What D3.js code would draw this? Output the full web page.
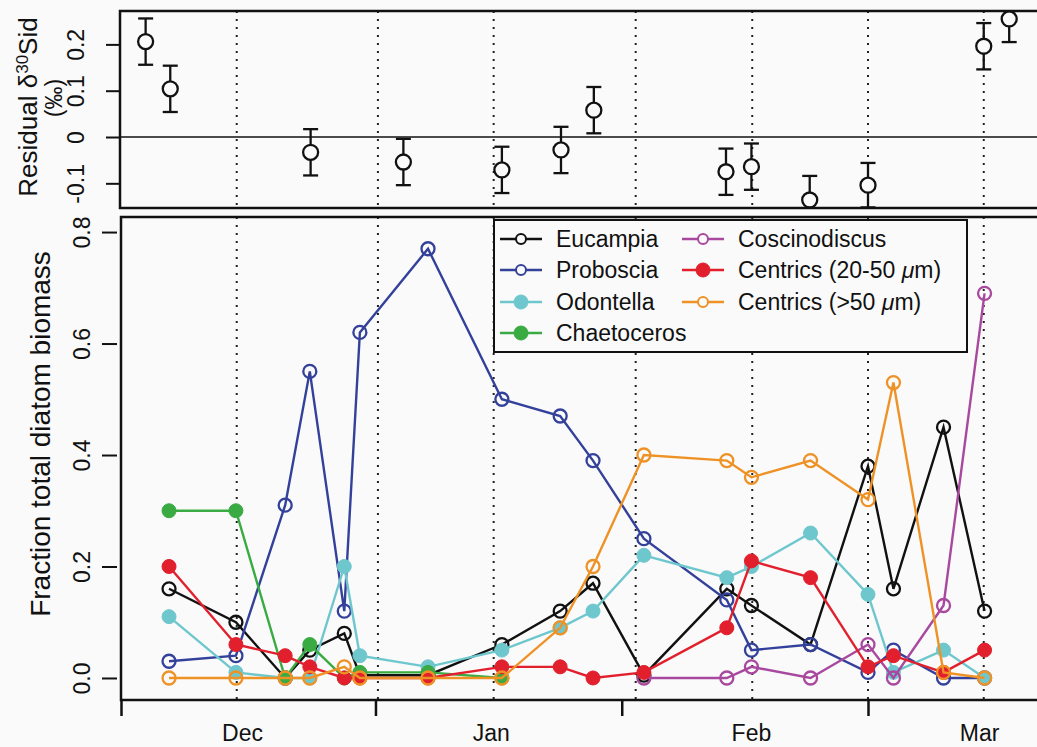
<!DOCTYPE html>
<html>
<head>
<meta charset="utf-8">
<script src="https://cdn.jsdelivr.net/npm/d3@7"></script>
<style>
  body { margin: 0; background: #fafafa; }
  text { font-family: "Liberation Sans", Arial, Helvetica, sans-serif; fill: #111; }
</style>
</head>
<body>
<div id="chart"></div>
<script>
// sampling days (days since 1 Dec) for the biomass panel
var sampleDays = [5.85, 14.0, 20.0, 23.0, 27.2, 29.1, 37.4, 46.4, 53.5, 57.5, 63.7, 73.8, 76.8, 84.0, 91.0, 94.1, 100.2, 105.2];

var eucampia      = [0.16, 0.10, 0.0, 0.05, 0.08, 0.005, 0.005, 0.06, 0.12, 0.17, 0.005, 0.16, 0.13, 0.06, 0.38, 0.16, 0.45, 0.12];
var proboscia     = [0.03, 0.04, 0.31, 0.55, 0.12, 0.62, 0.77, 0.50, 0.47, 0.39, 0.25, 0.14, 0.05, 0.06, 0.01, 0.05, 0.0, 0.0];
var odontella     = [0.11, 0.01, 0.0, 0.0, 0.20, 0.04, 0.02, 0.05, 0.09, 0.12, 0.22, 0.18, 0.20, 0.26, 0.15, 0.01, 0.05, 0.0];
var chaetoceros   = [0.30, 0.30, 0.0, 0.06, 0.0, 0.01, 0.01, 0.0, null, null, null, null, null, null, null, null, null, null];
var coscinodiscus = [null, null, null, null, null, null, null, null, null, null, 0.0, 0.0, 0.02, 0.0, 0.06, 0.0, 0.13, 0.69];
var centrics20    = [0.20, 0.06, 0.04, 0.02, 0.0, 0.0, 0.0, 0.02, 0.02, 0.0, 0.01, 0.09, 0.21, 0.18, 0.02, 0.04, 0.01, 0.05];
var centrics50    = [0.0, 0.0, 0.0, 0.0, 0.02, 0.0, 0.0, 0.0, 0.09, 0.20, 0.40, 0.39, 0.36, 0.39, 0.32, 0.53, 0.01, 0.0];

// residual d30Si panel
var residDays = [3.0, 6.0, 23.1, 34.4, 46.4, 53.6, 57.6, 73.7, 76.8, 83.9, 91.0, 105.1, 108.2];
var residVals = [0.206, 0.104, -0.033, -0.054, -0.071, -0.028, 0.058, -0.075, -0.064, -0.136, -0.104, 0.196, 0.255];
var residErr  = [0.05, 0.05, 0.05, 0.05, 0.05, 0.05, 0.05, 0.05, 0.05, 0.052, 0.048, 0.05, 0.05];

var isotopeDays = [14.1, 31.3, 45.4, 62.7, 76.9, 91.0, 105.1];
var monthTicks = [0, 31, 61, 91];
var monthLabels = ["Dec", "Jan", "Feb", "Mar"];
var monthLabelDays = [14.8, 45.1, 76.8, 104.6];
var topTicks = [-0.1, 0, 0.1, 0.2];
var topTickLabels = ["-0.1", "0", "0.1", "0.2"];
var bottomTicks = [0, 0.2, 0.4, 0.6, 0.8];
var bottomTickLabels = ["0.0", "0.2", "0.4", "0.6", "0.8"];

var series = [
  {name: "Eucampia", values: eucampia, color: "#111111", filled: false},
  {name: "Proboscia", values: proboscia, color: "#33419b", filled: false},
  {name: "Odontella", values: odontella, color: "#6fc7ce", filled: true},
  {name: "Chaetoceros", values: chaetoceros, color: "#3aab43", filled: true},
  {name: "Coscinodiscus", values: coscinodiscus, color: "#a8489f", filled: false},
  {name: "Centrics (20-50 ", unit: true, values: centrics20, color: "#e21f2d", filled: true},
  {name: "Centrics (>50 ", unit: true, values: centrics50, color: "#ef9226", filled: false}
];

var width = 1037, height = 747;
var bg = "#fafafa";

var svg = d3.select("#chart").append("svg")
    .attr("width", width)
    .attr("height", height);

svg.append("rect").attr("width", width).attr("height", height).attr("fill", bg);

var x = d3.scaleLinear().domain([0, 91]).range([121, 868]);
var yTop = d3.scaleLinear().domain([-0.1533, 0.2721]).range([208, 11]);
var yBot = d3.scaleLinear().domain([-0.0395, 0.827]).range([700, 217]);

var defs = svg.append("defs");
defs.append("clipPath").attr("id", "clipTop")
    .append("rect").attr("x", 120).attr("y", 11).attr("width", 920).attr("height", 197);
defs.append("clipPath").attr("id", "clipBot")
    .append("rect").attr("x", 121).attr("y", 217).attr("width", 920).attr("height", 483);

// ---------- top panel ----------
var topPanel = svg.append("g");
var topPlot = topPanel.append("g").attr("clip-path", "url(#clipTop)");

topPlot.selectAll(".vdot").data(isotopeDays).enter().append("line")
    .attr("x1", d => x(d)).attr("x2", d => x(d))
    .attr("y1", 11).attr("y2", 208)
    .attr("stroke", "#222").attr("stroke-width", 2)
    .attr("stroke-dasharray", "2 6");

topPlot.append("line")
    .attr("x1", 120).attr("x2", 1040)
    .attr("y1", yTop(0)).attr("y2", yTop(0))
    .attr("stroke", "#111").attr("stroke-width", 1.5);

var resid = residDays.map((d, i) => ({day: d, v: residVals[i], e: residErr[i]}));

var bars = topPlot.selectAll(".err").data(resid).enter().append("g");
bars.append("line")
    .attr("x1", d => x(d.day)).attr("x2", d => x(d.day))
    .attr("y1", d => yTop(d.v - d.e)).attr("y2", d => yTop(d.v + d.e))
    .attr("stroke", "#111").attr("stroke-width", 2.3);
bars.append("line")
    .attr("x1", d => x(d.day) - 7.5).attr("x2", d => x(d.day) + 7.5)
    .attr("y1", d => yTop(d.v + d.e)).attr("y2", d => yTop(d.v + d.e))
    .attr("stroke", "#111").attr("stroke-width", 2.3);
bars.append("line")
    .attr("x1", d => x(d.day) - 7.5).attr("x2", d => x(d.day) + 7.5)
    .attr("y1", d => yTop(d.v - d.e)).attr("y2", d => yTop(d.v - d.e))
    .attr("stroke", "#111").attr("stroke-width", 2.3);
bars.append("circle")
    .attr("cx", d => x(d.day)).attr("cy", d => yTop(d.v)).attr("r", 7.5)
    .attr("fill", bg).attr("stroke", "#111").attr("stroke-width", 2.3);

topPanel.append("rect")
    .attr("x", 120).attr("y", 11).attr("width", 940).attr("height", 197)
    .attr("fill", "none").attr("stroke", "#111").attr("stroke-width", 2.5);

var topAxis = topPanel.append("g")
    .attr("transform", "translate(119,0)")
    .call(d3.axisLeft(yTop).tickValues(topTicks).tickSize(13)
        .tickFormat((d, i) => topTickLabels[i]));
topAxis.select(".domain").remove();
topAxis.selectAll("line").attr("stroke", "#111").attr("stroke-width", 2);
topAxis.selectAll("text")
    .attr("transform", "rotate(-90)")
    .attr("x", 0).attr("y", -35).attr("dy", 0)
    .attr("text-anchor", "middle")
    .style("font-size", "23px").style("fill", "#111");

var t1 = svg.append("text")
    .attr("transform", "translate(37,107) rotate(-90)")
    .attr("text-anchor", "middle")
    .style("font-size", "26px");
t1.append("tspan").text("Residual δ");
t1.append("tspan").attr("baseline-shift", "super").style("font-size", "17px").text("30");
t1.append("tspan").text("Sid");

svg.append("text")
    .attr("transform", "translate(62,98) rotate(-90)")
    .attr("text-anchor", "middle")
    .style("font-size", "23px")
    .text("(‰)");

// ---------- bottom panel ----------
var botPanel = svg.append("g");
var botPlot = botPanel.append("g").attr("clip-path", "url(#clipBot)");

botPlot.selectAll(".vdot").data(isotopeDays).enter().append("line")
    .attr("x1", d => x(d)).attr("x2", d => x(d))
    .attr("y1", 217).attr("y2", 700)
    .attr("stroke", "#222").attr("stroke-width", 2)
    .attr("stroke-dasharray", "2 6");

var line = d3.line()
    .defined(d => d.v !== null)
    .x(d => x(d.day))
    .y(d => yBot(d.v));

series.forEach(function(s) {
    var pts = sampleDays.map((d, i) => ({day: d, v: s.values[i]}));
    var g = botPlot.append("g");
    g.append("path")
        .datum(pts)
        .attr("fill", "none")
        .attr("stroke", s.color)
        .attr("stroke-width", 2.4)
        .attr("d", line);
    g.selectAll("circle").data(pts.filter(p => p.v !== null)).enter().append("circle")
        .attr("cx", d => x(d.day)).attr("cy", d => yBot(d.v))
        .attr("r", s.filled ? 7 : 6.5)
        .attr("fill", s.filled ? s.color : "none")
        .attr("stroke", s.color)
        .attr("stroke-width", s.filled ? 1 : 2.3);
});

botPanel.append("rect")
    .attr("x", 121).attr("y", 217).attr("width", 940).attr("height", 483)
    .attr("fill", "none").attr("stroke", "#111").attr("stroke-width", 2.5);

var yAxisB = botPanel.append("g")
    .attr("transform", "translate(117,0)")
    .call(d3.axisLeft(yBot).tickValues(bottomTicks).tickSize(15)
        .tickFormat((d, i) => bottomTickLabels[i]));
yAxisB.select(".domain").remove();
yAxisB.selectAll("line").attr("stroke", "#111").attr("stroke-width", 2);
yAxisB.selectAll("text")
    .attr("transform", "rotate(-90)")
    .attr("x", 0).attr("y", -27).attr("dy", 0)
    .attr("text-anchor", "middle")
    .style("font-size", "23px").style("fill", "#111");

var xAxisB = botPanel.append("g")
    .attr("transform", "translate(0,700)")
    .call(d3.axisBottom(x).tickValues(monthTicks).tickSize(16).tickFormat(""));
xAxisB.select(".domain").remove();
xAxisB.selectAll("line").attr("stroke", "#111").attr("stroke-width", 2.5);

botPanel.selectAll(".month").data(monthLabels).enter().append("text")
    .attr("x", (d, i) => x(monthLabelDays[i]))
    .attr("y", 741)
    .attr("text-anchor", "middle")
    .style("font-size", "23px")
    .text(d => d);

svg.append("text")
    .attr("transform", "translate(50,434) rotate(-90)")
    .attr("text-anchor", "middle")
    .style("font-size", "28px")
    .text("Fraction total diatom biomass");

// ---------- legend ----------
var legend = svg.append("g");
legend.append("rect")
    .attr("x", 494).attr("y", 220).attr("width", 473).attr("height", 132)
    .attr("fill", bg).attr("stroke", "#111").attr("stroke-width", 2);

var legendPos = [
    {x: 500, y: 239}, {x: 500, y: 270}, {x: 500, y: 302}, {x: 500, y: 333},
    {x: 682, y: 239}, {x: 682, y: 270}, {x: 682, y: 302}
];

series.forEach(function(s, i) {
    var p = legendPos[i];
    var g = legend.append("g").attr("transform", "translate(" + p.x + "," + p.y + ")");
    g.append("line").attr("x1", 0).attr("x2", 42).attr("y1", 0).attr("y2", 0)
        .attr("stroke", s.color).attr("stroke-width", 2.3);
    g.append("circle").attr("cx", 21).attr("cy", 0)
        .attr("r", s.filled ? 7 : 5)
        .attr("fill", s.filled ? s.color : bg)
        .attr("stroke", s.color).attr("stroke-width", s.filled ? 1 : 2);
    var t = g.append("text").attr("x", 56).attr("y", 0).attr("dy", "0.36em")
        .style("font-size", "23px");
    t.append("tspan").text(s.name);
    if (s.unit) {
        t.append("tspan").style("font-style", "italic").text("μ");
        t.append("tspan").text("m)");
    }
});
</script>
</body>
</html>
